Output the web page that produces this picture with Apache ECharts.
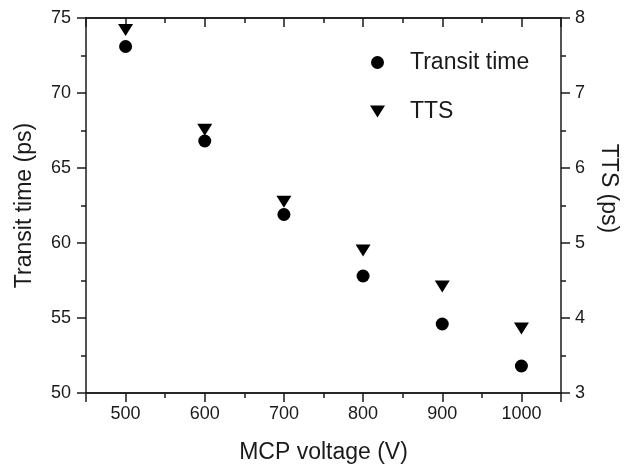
<!DOCTYPE html>
<html>
<head>
<meta charset="utf-8">
<script src="https://cdn.jsdelivr.net/npm/echarts@6/dist/echarts.min.js"></script>
<style>
  html, body { margin: 0; padding: 0; background: #fff; }
  #chart { width: 628px; height: 470px; }
</style>
</head>
<body>
<div id="chart"></div>
<script>
// data
var voltages = [500, 600, 700, 800, 900, 1000];
var transitTime = [73.1, 66.8, 61.9, 57.8, 54.6, 51.8];
var ttsValues = [7.84, 6.51, 5.55, 4.90, 4.42, 3.86];
var xLabels = [500, 600, 700, 800, 900, 1000];

var ink = '#1a1a1a';
var font = 'Liberation Sans, Arial, sans-serif';
var triDown = 'path://M0,0L10,0L5,8Z';

var chart = echarts.init(document.getElementById('chart'));

// minor: a tick every 50; major: ECharts picks 100 itself (plus the two ends)
function xAxisBase(pos, inside, major) {
    var ax = {
        type: 'value', position: pos, min: 450, max: 1050,
        axisLine: { show: true, lineStyle: { color: ink, width: 1.5 } },
        axisTick: { show: true, inside: inside, length: major ? 9 : 5, lineStyle: { color: ink, width: 1.5 } },
        axisLabel: { show: false },
        splitLine: { show: false }
    };
    if (major) ax.splitNumber = 5;
    else ax.interval = 50;
    return ax;
}

var xMain = xAxisBase('bottom', false, false);
xMain.axisLabel = {
    show: true, customValues: xLabels, margin: 12,
    fontSize: 18, color: ink, fontFamily: font,
    formatter: function (v) { return String(v); }
};
xMain.name = 'MCP voltage (V)';
xMain.nameLocation = 'middle';
xMain.nameGap = 48;
xMain.nameTextStyle = { fontSize: 23, color: ink, fontFamily: font };

var option = {
    animation: false,
    backgroundColor: '#fff',
    grid: { left: 86, right: 66, top: 18, bottom: 77 },
    legend: {
        orient: 'vertical', left: 365, top: 46,
        itemWidth: 15, itemHeight: 13, itemGap: 26,
        textStyle: { fontSize: 23, color: ink, fontFamily: font, padding: [0, 0, 0, 20] },
        data: [
            { name: 'Transit time', icon: 'circle' },
            { name: 'TTS', icon: triDown }
        ]
    },
    xAxis: [
        xMain,
        xAxisBase('bottom', false, true),
        xAxisBase('top', true, false),
        xAxisBase('top', true, true)
    ],
    yAxis: [
        {
            type: 'value', position: 'left', min: 50, max: 75, interval: 5,
            name: 'Transit time (ps)', nameLocation: 'middle', nameGap: 50,
            nameTextStyle: { fontSize: 23, color: ink, fontFamily: font },
            axisLine: { show: true, lineStyle: { color: ink, width: 1.5 } },
            axisTick: { show: true, length: 9, lineStyle: { color: ink, width: 1.5 } },
            minorTick: { show: true, splitNumber: 2, length: 5, lineStyle: { color: ink, width: 1.5 } },
            axisLabel: { fontSize: 18, color: ink, fontFamily: font, margin: 15 },
            splitLine: { show: false }
        },
        {
            type: 'value', position: 'right', min: 3, max: 8, interval: 1,
            name: 'TTS (ps)', nameLocation: 'middle', nameGap: 36, nameRotate: -90,
            nameTextStyle: { fontSize: 23, color: ink, fontFamily: font, padding: [0, 34, 0, 0] },
            axisLine: { show: true, lineStyle: { color: ink, width: 1.5 } },
            axisTick: { show: true, length: 9, lineStyle: { color: ink, width: 1.5 } },
            minorTick: { show: true, splitNumber: 2, length: 5, lineStyle: { color: ink, width: 1.5 } },
            axisLabel: { fontSize: 18, color: ink, fontFamily: font, margin: 14 },
            splitLine: { show: false }
        }
    ],
    series: [
        {
            name: 'Transit time', type: 'scatter', xAxisIndex: 0, yAxisIndex: 0,
            symbol: 'circle', symbolSize: 13,
            itemStyle: { color: '#000', opacity: 1 },
            data: voltages.map(function (v, i) { return [v, transitTime[i]]; })
        },
        {
            name: 'TTS', type: 'scatter', xAxisIndex: 0, yAxisIndex: 1,
            symbol: triDown, symbolSize: [15, 12],
            itemStyle: { color: '#000', opacity: 1 },
            data: voltages.map(function (v, i) { return [v, ttsValues[i]]; })
        }
    ]
};

chart.setOption(option);
</script>
</body>
</html>
